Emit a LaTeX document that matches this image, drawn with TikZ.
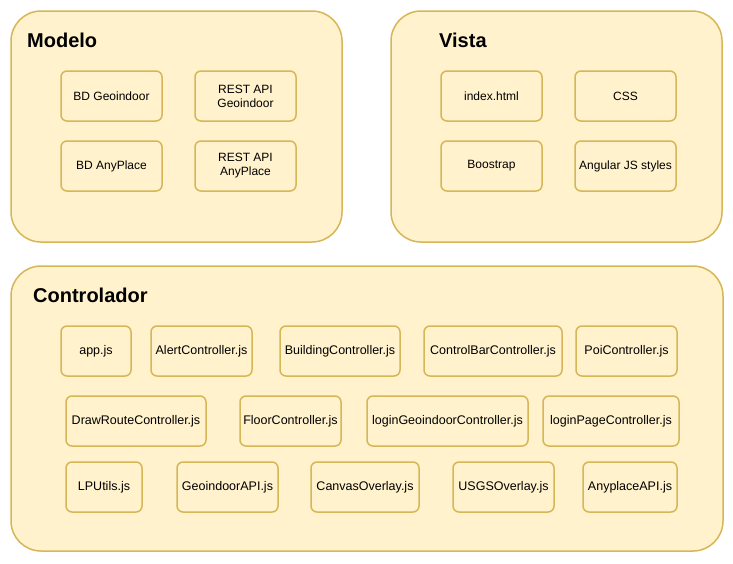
\documentclass[tikz,border=0pt]{standalone}
\usepackage{fontspec}
\setmainfont{Liberation Sans}
\definecolor{yfill}{HTML}{FFF2CC}
\definecolor{ydraw}{HTML}{D6B656}
\begin{document}
\begin{tikzpicture}[x=1pt,y=-1pt,
  group/.style={draw=ydraw,fill=yfill,line width=1.5pt,rounded corners=30pt},
  item/.style={draw=ydraw,fill=yfill,line width=1.5pt,rounded corners=6pt},
  ititle/.style={font=\fontsize{20}{24}\selectfont\bfseries,anchor=west,inner sep=0pt},
  lbl/.style={font=\fontsize{12}{14}\selectfont,align=center,inner sep=0pt},
  clbl/.style={font=\fontsize{12.5}{14}\selectfont,align=center,inner sep=0pt}]
\useasboundingbox (0,0) rectangle (733,563);
% groups
\draw[group] (11,11) rectangle (342,242);
\draw[group] (391,11) rectangle (722,242);
\draw[group] (11,266) rectangle (723,551);
\node[ititle] (tm) at (27,40) {Modelo};
\node[ititle] (tv) at (439,40) {Vista};
\node[ititle] (tc) at (33,295) {Controlador};
% Modelo
\draw[item] (61,71) rectangle (162,121);
\node[lbl] (bdg) at (111.5,96) {BD Geoindoor};
\draw[item] (195,71) rectangle (296,121);
\node[lbl] (rg) at (245.5,96) {REST API\\Geoindoor};
\draw[item] (61,141) rectangle (162,191);
\node[lbl] (bda) at (111.5,166) {BD AnyPlace};
\draw[item] (195,141) rectangle (296,191);
\node[lbl] (ra) at (245.5,166) {REST API\\AnyPlace};
% Vista
\draw[item] (441,71) rectangle (542,121);
\node[lbl] (ix) at (491.5,96) {index.html};
\draw[item] (575,71) rectangle (676,121);
\node[lbl] (css) at (625.5,96) {CSS};
\draw[item] (441,141) rectangle (542,191);
\node[lbl] (bs) at (491.5,166) {Boostrap};
\draw[item] (575,141) rectangle (676,191);
\node[lbl] (ang) at (625.5,166) {Angular JS styles};
% Controlador row 1
\draw[item] (61,326) rectangle (131,376);
\node[clbl] (c1) at (96,351) {app.js};
\draw[item] (151,326) rectangle (252,376);
\node[clbl] (c2) at (201.5,351) {AlertController.js};
\draw[item] (280,326) rectangle (400,376);
\node[clbl] (c3) at (340,351) {BuildingController.js};
\draw[item] (424,326) rectangle (562,376);
\node[clbl] (c4) at (493,351) {ControlBarController.js};
\draw[item] (576,326) rectangle (677,376);
\node[clbl] (c5) at (626.5,351) {PoiController.js};
% row 2
\draw[item] (66,396) rectangle (206,446);
\node[clbl] (c6) at (136,421) {DrawRouteController.js};
\draw[item] (240,396) rectangle (341,446);
\node[clbl] (c7) at (290.5,421) {FloorController.js};
\draw[item] (367,396) rectangle (528,446);
\node[clbl] (c8) at (447.5,421) {loginGeoindoorController.js};
\draw[item] (543,396) rectangle (679,446);
\node[clbl] (c9) at (611,421) {loginPageController.js};
% row 3
\draw[item] (66,462) rectangle (142,512);
\node[clbl] (c10) at (104,487) {LPUtils.js};
\draw[item] (177,462) rectangle (278,512);
\node[clbl] (c11) at (227.5,487) {GeoindoorAPI.js};
\draw[item] (311,462) rectangle (419,512);
\node[clbl] (c12) at (365,487) {CanvasOverlay.js};
\draw[item] (453,462) rectangle (554,512);
\node[clbl] (c13) at (503.5,487) {USGSOverlay.js};
\draw[item] (583,462) rectangle (677,512);
\node[clbl] (c14) at (630,487) {AnyplaceAPI.js};
\end{tikzpicture}
\end{document}
